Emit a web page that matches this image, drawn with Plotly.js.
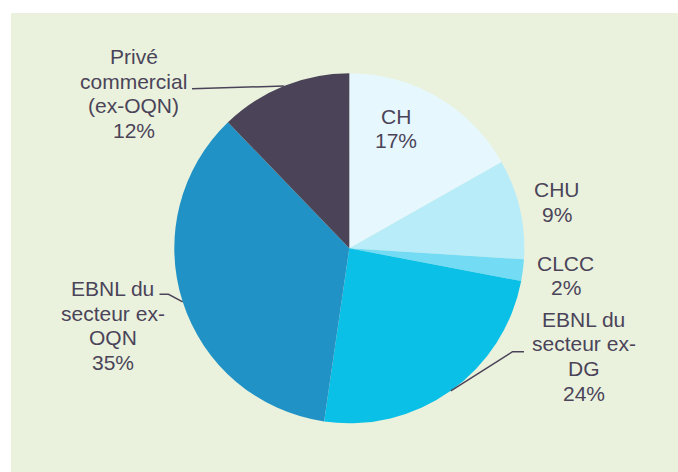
<!DOCTYPE html>
<html>
<head>
<meta charset="utf-8">
<script src="https://cdn.plot.ly/plotly-3.0.1.min.js"></script>
<style>html,body{margin:0;padding:0;background:#fff;}#chart{width:678px;height:472px;}</style>
</head>
<body>
<div id="chart"></div>
<script>
const categories = ["CH", "CHU", "CLCC", "EBNL du secteur ex-DG", "EBNL du secteur ex-OQN", "Privé commercial (ex-OQN)"];
const shares = [16.8, 9.2, 2.0, 24.3, 35.5, 12.2];
const labelLines = [
  ["CH", "17%"],
  ["CHU", "9%"],
  ["CLCC", "2%"],
  ["EBNL du", "secteur ex-", "DG", "24%"],
  ["EBNL du", "secteur ex-", "OQN", "35%"],
  ["Privé", "commercial", "(ex-OQN)", "12%"]
];
const sliceColors = ["#E6F8FD", "#B9ECF9", "#73DCF4", "#0BC0E7", "#2192C5", "#4B4459"];

const W = 678, H = 472;
const cx = 349.3, cy = 248.3, R = 175;
const textColor = "#4B4459";
const fontSize = 21, lineH = 24.6;
// label anchor: centre x, first baseline y (pixels)
const labelAnchor = [
  [395.5, 123.5], [557, 197], [565.5, 270.7], [583.5, 326.7], [112.5, 296], [133.5, 64]
];
// leader lines: start point near text (pixels), optional elbow; end computed on pie edge
const leaders = {
  3: [[524, 351.7], [512.5, 351.7]],
  4: [[159.5, 294.3], [168.5, 294.3]],
  5: [[192, 88.8]]
};

const px = x => x / W, py = y => 1 - y / H;

const total = shares.reduce((a, b) => a + b, 0);
let cum = 0;
const midAngles = shares.map(v => { const m = (cum + v / 2) / total * 2 * Math.PI; cum += v; return m; });

const annotations = [];
labelLines.forEach((lines, i) => {
  lines.forEach((t, j) => {
    annotations.push({
      xref: "paper", yref: "paper", x: px(labelAnchor[i][0]), y: py(labelAnchor[i][1] + j * lineH - 7.5),
      xanchor: "center", yanchor: "middle", showarrow: false, text: t,
      font: {family: "Liberation Sans, Arial, sans-serif", size: fontSize, color: textColor}
    });
  });
});

const shapes = [{
  type: "rect", xref: "paper", yref: "paper", x0: px(11), x1: 1, y0: 0, y1: py(13),
  fillcolor: "#EAF2DD", line: {width: 0}, layer: "below"
}];
Object.keys(leaders).forEach(k => {
  const i = +k;
  const a = midAngles[i];
  const ex = cx + R * Math.sin(a), ey = cy - R * Math.cos(a);
  const pts = leaders[k].concat([[ex, ey]]);
  const d = pts.map((p, n) => (n ? "L" : "M") + px(p[0]) + "," + py(p[1])).join(" ");
  shapes.push({type: "path", xref: "paper", yref: "paper", path: d, line: {color: textColor, width: 1.5}});
});

const trace = {
  type: "pie", labels: categories, values: shares, sort: false, direction: "clockwise", rotation: 0,
  marker: {colors: sliceColors, line: {width: 0}}, textinfo: "none", hoverinfo: "label+percent",
  domain: {x: [px(cx - R), px(cx + R)], y: [py(cy + R), py(cy - R)]}
};

const layout = {
  width: W, height: H, margin: {l: 0, r: 0, t: 0, b: 0},
  paper_bgcolor: "#FFFFFF", showlegend: false, shapes: shapes, annotations: annotations
};
Plotly.newPlot("chart", [trace], layout, {displayModeBar: false, staticPlot: true});
</script>
</body>
</html>
